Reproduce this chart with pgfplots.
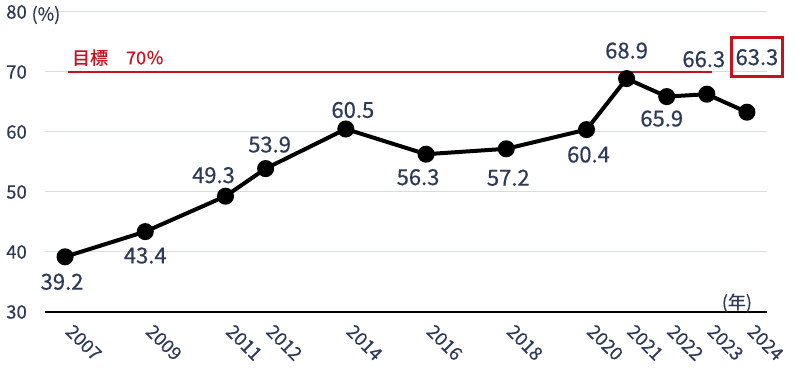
\documentclass[border=0pt]{standalone}
\usepackage{fontspec}
\setmainfont{Noto Sans CJK JP}[FakeBold=0.4]
\usepackage{pgfplots}
\usepackage{pgfplotstable}
\pgfplotsset{compat=1.18}
\definecolor{txt}{RGB}{44,58,87}
\definecolor{tgt}{RGB}{200,16,30}
\definecolor{grd}{RGB}{214,220,229}

\pgfplotstableread{
x y
2007 39.2
2009 43.4
2011 49.3
2012 53.9
2014 60.5
2016 56.3
2018 57.2
2020 60.4
2021 68.9
2022 65.9
2023 66.3
2024 63.3
}\maindata

\pgfplotstableread{
x y dx dy lab
2007 39.2 -3 -25 39.2
2009 43.4 0 -24 43.4
2011 49.3 -12 21 49.3
2012 53.9 4 24 53.9
2014 60.5 7 19 60.5
2016 56.3 -8 -23 56.3
2018 57.2 2 -29 57.2
2020 60.4 2 -25 60.4
2021 68.9 0 28 68.9
2022 65.9 -5 -22 65.9
2023 66.3 -3 35 66.3
}\labeldata

\pgfplotstableread{
x y dx dy lab
2024 63.3 10 55 63.3
}\boxdata

\begin{document}
\begin{tikzpicture}
\path[use as bounding box] (0bp,0bp) rectangle (800bp,368bp);
\begin{axis}[
  at={(45bp,56bp)}, anchor=south west,
  scale only axis, width=722bp, height=300bp,
  xmin=2006.5, xmax=2024.5, ymin=30, ymax=80,
  clip=false,
  axis x line=bottom, axis y line=left,
  x axis line style={-, black, line width=1.5bp},
  y axis line style={draw=none},
  major tick length=0pt,
  ymajorgrids, major grid style={grd, line width=1bp},
  ytick={30,40,50,60,70,80},
  xtick={2007,2009,2011,2012,2014,2016,2018,2020,2021,2022,2023,2024},
  /pgf/number format/1000 sep={},
  /pgf/number format/assume math mode=true,
  ticklabel style={font=\fontsize{18.5bp}{22bp}\selectfont, text=txt},
  yticklabel style={anchor=east, inner sep=0pt, xshift=-18bp},
  xticklabel style={xshift=9bp, yshift=-11bp, rotate=-45, anchor=north west, inner sep=0pt},
]
\addplot[black, line width=4bp, mark=*, mark size=6.5bp, mark options={fill=black}] table[x=x,y=y] {\maindata};
\addplot[draw=none, mark=none, nodes near coords, point meta=explicit symbolic,
  visualization depends on={\thisrow{dx} \as \dx},
  visualization depends on={\thisrow{dy} \as \dy},
  nodes near coords align={center},
  every node near coord/.append style={anchor=center, xshift=\dx bp, yshift=\dy bp, inner sep=0pt,
    font=\fontsize{22bp}{26bp}\selectfont, text=txt}]
  table[x=x,y=y,meta=lab] {\labeldata};
\addplot[draw=none, mark=none, nodes near coords, point meta=explicit symbolic,
  visualization depends on={\thisrow{dx} \as \dx},
  visualization depends on={\thisrow{dy} \as \dy},
  nodes near coords align={center},
  every node near coord/.append style={anchor=center, xshift=\dx bp, yshift=\dy bp, inner sep=0pt,
    draw=tgt, line width=2.5bp, minimum width=51bp, minimum height=39bp,
    font=\fontsize{22bp}{26bp}\selectfont, text=txt}]
  table[x=x,y=y,meta=lab] {\boxdata};
\addplot[tgt, line width=2.5bp, mark=none] coordinates {(2007.07,70) (2023.13,70)};
\node[anchor=west, inner sep=0pt, text=tgt, font=\fontsize{18bp}{21bp}\selectfont] at (axis cs:2007.17,72.4) {目標　70％};
\node[anchor=west, inner sep=0pt, text=txt, font=\fontsize{18bp}{21bp}\selectfont] at (axis cs:2006.16,79.5) {(\%)};
\node[anchor=center, inner sep=0pt, text=txt, font=\fontsize{18bp}{21bp}\selectfont] at (axis cs:2023.75,31.5) {(年)};
\end{axis}
\end{tikzpicture}
\end{document}
